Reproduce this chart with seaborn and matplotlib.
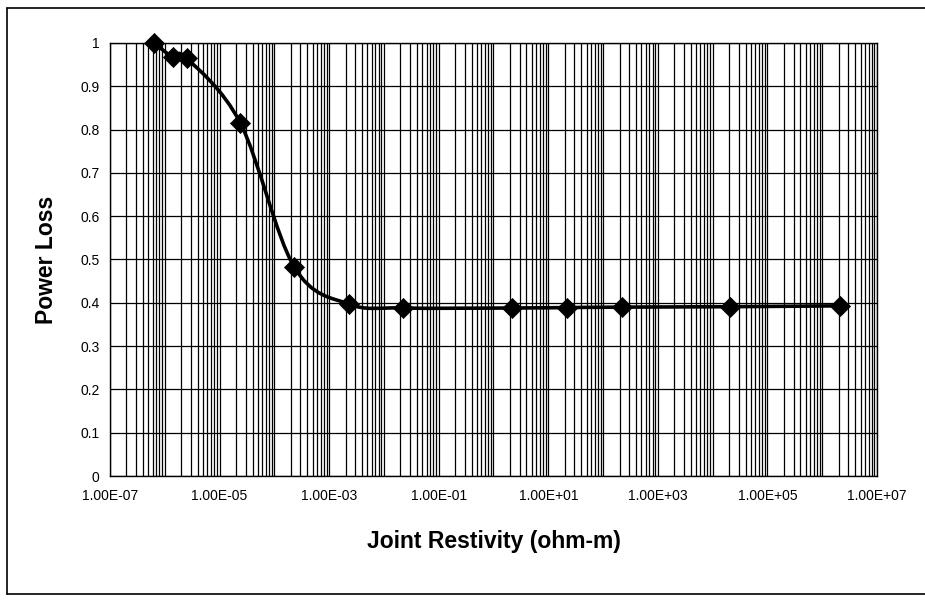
import numpy as np
import matplotlib
matplotlib.use("Agg")
import matplotlib.pyplot as plt
import matplotlib.ticker as mticker
from matplotlib.path import Path
from matplotlib.patches import PathPatch
from matplotlib.lines import Line2D
import pandas as pd
import seaborn as sns

# === DATA ===
resistivity = [6.4e-7, 1.4e-6, 2.5e-6, 2.4e-5, 2.3e-4, 2.3e-3, 2.2e-2, 2.2, 22, 220, 2.1e4, 2.1e6]
power_loss = [1.0, 0.968, 0.965, 0.815, 0.483, 0.397, 0.388, 0.388, 0.389, 0.390, 0.391, 0.393]
x_tick_values = [1e-7, 1e-5, 1e-3, 1e-1, 1e1, 1e3, 1e5, 1e7]
y_tick_values = [0, 0.1, 0.2, 0.3, 0.4, 0.5, 0.6, 0.7, 0.8, 0.9, 1.0]

df = pd.DataFrame({"resistivity": resistivity, "power_loss": power_loss})

sns.set_style("white")
plt.rcParams["font.family"] = ["Liberation Sans", "DejaVu Sans"]
plt.rcParams["text.color"] = "black"
plt.rcParams["axes.labelcolor"] = "black"


def smooth_path(xs, ys):
    # Excel-style smoothed line: cubic bezier segments, control points from neighbours
    # (computed in log-x space so it matches the screen geometry)
    lx = np.log10(np.asarray(xs, dtype=float))
    y = np.asarray(ys, dtype=float)
    pts = np.column_stack([lx, y])
    n = len(pts)
    verts = [pts[0]]
    codes = [Path.MOVETO]
    for i in range(n - 1):
        p0 = pts[i - 1] if i > 0 else pts[i]
        p1 = pts[i]
        p2 = pts[i + 1]
        p3 = pts[i + 2] if i + 2 < n else pts[i + 1]
        c1 = p1 + (p2 - p0) / 6.0
        c2 = p2 - (p3 - p1) / 6.0
        verts += [c1, c2, p2]
        codes += [Path.CURVE4] * 3
    verts = np.array(verts)
    verts[:, 0] = 10.0 ** verts[:, 0]
    return Path(verts, codes)


fig = plt.figure(figsize=(9.25, 6.02), dpi=100)
ax = fig.add_axes([0.1189, 0.2093, 0.8292, 0.7193])

ax.set_xscale("log")
ax.set_xlim(1e-7, 1e7)
ax.set_ylim(0, 1)

# gridlines
ax.xaxis.set_major_locator(mticker.FixedLocator(x_tick_values))
ax.xaxis.set_major_formatter(mticker.FuncFormatter(lambda v, p: f"{v:.2E}"))
ax.xaxis.set_minor_locator(mticker.LogLocator(base=10, subs=np.arange(1, 10), numticks=200))
ax.xaxis.set_minor_formatter(mticker.NullFormatter())
ax.yaxis.set_major_locator(mticker.FixedLocator(y_tick_values))
ax.yaxis.set_major_formatter(mticker.FuncFormatter(lambda v, p: f"{v:g}"))
ax.grid(which="both", axis="x", color="black", linewidth=0.9)
ax.grid(which="major", axis="y", color="black", linewidth=0.9)
ax.set_axisbelow(True)

ax.tick_params(axis="both", which="major", direction="out", length=4, width=0.9,
               color="black", labelsize=10, labelcolor="black")
ax.tick_params(axis="x", which="major", pad=5)
ax.tick_params(axis="x", which="minor", length=0)
for sp in ax.spines.values():
    sp.set_color("black")
    sp.set_linewidth(1.0)

# smoothed curve + diamond markers
ax.add_patch(PathPatch(smooth_path(resistivity, power_loss), facecolor="none",
                       edgecolor="black", linewidth=2.6, transform=ax.transData, zorder=3))
sns.scatterplot(data=df, x="resistivity", y="power_loss", marker="D", s=105,
                color="black", edgecolor="black", linewidth=0.5, ax=ax, zorder=4,
                clip_on=False)

ax.set_xlabel("Joint Restivity (ohm-m)", fontsize=16.5, fontweight="bold", labelpad=20)
ax.set_ylabel("Power Loss", fontsize=16.5, fontweight="bold", labelpad=16)

# outer chart-area border
fig.add_artist(Line2D([7 / 925, 7 / 925], [1 - 594 / 602, 1 - 8 / 602], transform=fig.transFigure,
                      color="black", linewidth=1.2))
fig.add_artist(Line2D([7 / 925, 1.0], [1 - 8 / 602, 1 - 8 / 602], transform=fig.transFigure,
                      color="black", linewidth=1.2))
fig.add_artist(Line2D([7 / 925, 1.0], [1 - 594 / 602, 1 - 594 / 602], transform=fig.transFigure,
                      color="black", linewidth=1.2))

plt.savefig("out.png", dpi=100)
